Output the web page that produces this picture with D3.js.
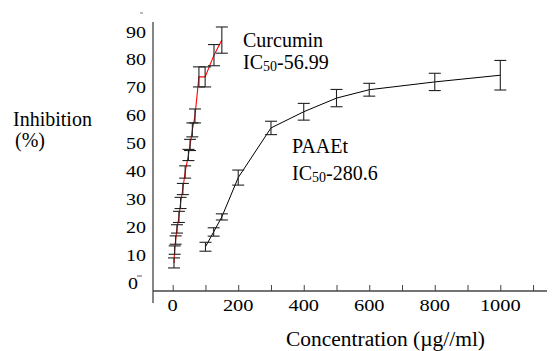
<!DOCTYPE html>
<html>
<head>
<meta charset="utf-8">
<script src="https://cdn.jsdelivr.net/npm/d3@7"></script>
<style>
  body { margin: 0; background: #fff; }
  svg text { fill: #000; }
</style>
</head>
<body>
<div id="container"></div>
<script>
/* DATA */
const curcConc  = [4, 6, 9, 13, 19, 24, 31, 38, 48, 53, 60, 68, 80, 99, 126, 150];
const curcInhib = [7.2, 11.8, 15.4, 19.4, 23.7, 28.7, 33.7, 39.8, 45.9, 49.5, 54.9, 59.9, 73.9, 73.9, 81.7, 87.1];
const curcErr   = [1.8, 1.5, 1.5, 1.5, 2, 2, 2, 2.2, 2, 2, 2.5, 2.5, 3.6, 3.6, 3.8, 4.7];

const paaConc  = [100, 125, 150, 200, 300, 400, 500, 600, 800, 1000];
const paaInhib = [13.0, 18.3, 23.7, 37.8, 55.6, 61.4, 66.3, 69.3, 72.1, 74.5];
const paaErr   = [1.6, 1.5, 1.1, 2.7, 2.4, 3.0, 3.1, 2.3, 3.1, 5.3];

const xTicks = [0, 200, 400, 600, 800, 1000];
const xMinorTicks = [100, 300, 500, 700, 900, 1100];
const yTicks = [0, 10, 20, 30, 40, 50, 60, 70, 80, 90];

/* CONSTANTS */
const width = 555, height = 351;
const capW = 6;
const serif = "Liberation Serif, Times New Roman, Times, Tinos, Noto Serif, DejaVu Serif, FreeSerif, serif";

const svg = d3.select("#container")
  .append("svg")
  .attr("width", width)
  .attr("height", height)
  .style("font-family", serif)
  .style("background-color", "white");

/* SCALES */
const xScale = d3.scaleLinear().domain([0, 1000]).range([172.7, 500.3]);
const yScale = d3.scaleLinear().domain([0, 90]).range([283, 32]);

const curc = curcConc.map((c, i) => ({ x: c, y: curcInhib[i], e: curcErr[i] }));
const paa = paaConc.map((c, i) => ({ x: c, y: paaInhib[i], e: paaErr[i] }));

/* AXES */
const axisColor = "#444";
// y axis line
svg.append("line")
  .attr("x1", 153).attr("x2", 153)
  .attr("y1", 22).attr("y2", 303)
  .attr("stroke", axisColor).attr("stroke-width", 1.3);

// x axis with inward ticks
const xAxis = d3.axisTop(xScale)
  .tickValues(xTicks.concat(xMinorTicks))
  .tickSize(6)
  .tickFormat("");
const gx = svg.append("g")
  .attr("transform", `translate(0,291)`)
  .call(xAxis);
gx.select(".domain").remove();
gx.selectAll(".tick line").attr("stroke", axisColor);
svg.append("line")
  .attr("x1", 153).attr("x2", 547)
  .attr("y1", 291).attr("y2", 291)
  .attr("stroke", axisColor).attr("stroke-width", 1.3);

svg.selectAll("text.xlab")
  .data(xTicks)
  .join("text")
  .attr("class", "xlab")
  .attr("x", d => xScale(d))
  .attr("y", 311)
  .attr("text-anchor", "middle")
  .style("font-family", serif)
  .attr("font-size", 16)
  .attr("textLength", d => String(d).length * 10.2)
  .attr("lengthAdjust", "spacingAndGlyphs")
  .text(d => d);

svg.selectAll("text.ylab")
  .data(yTicks)
  .join("text")
  .attr("class", "ylab")
  .attr("x", d => d === 0 ? 128 : 126)
  .attr("y", d => yScale(d) + 5.5)
  .style("font-family", serif)
  .attr("font-size", 16)
  .attr("textLength", d => String(d).length * 10)
  .attr("lengthAdjust", "spacingAndGlyphs")
  .text(d => d);

// small stray tick marks
svg.append("line").attr("x1", 140).attr("x2", 143).attr("y1", 13).attr("y2", 13)
  .attr("stroke", "#777").attr("stroke-width", 1);
svg.append("line").attr("x1", 137).attr("x2", 142).attr("y1", 276).attr("y2", 276)
  .attr("stroke", "#555").attr("stroke-width", 1);

/* AXIS TITLES */
svg.append("text").attr("x", 13).attr("y", 126).style("font-family", serif)
  .attr("font-size", 20).text("Inhibition");
svg.append("text").attr("x", 15).attr("y", 147).style("font-family", serif)
  .attr("font-size", 20).text("(%)");
svg.append("text").attr("x", 286).attr("y", 346).style("font-family", serif)
  .attr("font-size", 20)
  .attr("textLength", 199).attr("lengthAdjust", "spacingAndGlyphs")
  .text("Concentration (µg//ml)");

/* LINES */
const line = d3.line().x(d => xScale(d.x)).y(d => yScale(d.y));

svg.append("path")
  .datum(paa)
  .attr("d", line)
  .attr("fill", "none")
  .attr("stroke", "#000")
  .attr("stroke-width", 1);

svg.append("path")
  .datum(curc)
  .attr("d", line)
  .attr("fill", "none")
  .attr("stroke", "#ff0000")
  .attr("stroke-width", 1.1);

/* ERROR BARS */
function errorBars(cls, data) {
  const g = svg.selectAll("g." + cls)
    .data(data)
    .join("g")
    .attr("class", cls)
    .attr("stroke", "#222")
    .attr("stroke-width", 1.1);
  g.append("line")
    .attr("x1", d => xScale(d.x)).attr("x2", d => xScale(d.x))
    .attr("y1", d => yScale(d.y + d.e)).attr("y2", d => yScale(d.y - d.e));
  g.append("line")
    .attr("x1", d => xScale(d.x) - capW).attr("x2", d => xScale(d.x) + capW)
    .attr("y1", d => yScale(d.y + d.e)).attr("y2", d => yScale(d.y + d.e));
  g.append("line")
    .attr("x1", d => xScale(d.x) - capW).attr("x2", d => xScale(d.x) + capW)
    .attr("y1", d => yScale(d.y - d.e)).attr("y2", d => yScale(d.y - d.e));
}
errorBars("eb-paa", paa);
errorBars("eb-curc", curc);

/* LABELS */
function icLabel(x, y1, y2, name, val) {
  svg.append("text").attr("x", x).attr("y", y1).style("font-family", serif)
    .attr("font-size", 20).text(name);
  const t = svg.append("text").attr("x", x).attr("y", y2).style("font-family", serif)
    .attr("font-size", 20);
  t.append("tspan").text("IC");
  t.append("tspan").attr("font-size", 14).attr("dy", 2.4).text("50");
  t.append("tspan").attr("dy", -2.4).text("-" + val);
}
icLabel(243, 47, 69, "Curcumin", "56.99");
icLabel(292, 153, 180, "PAAEt", "280.6");
</script>
</body>
</html>
